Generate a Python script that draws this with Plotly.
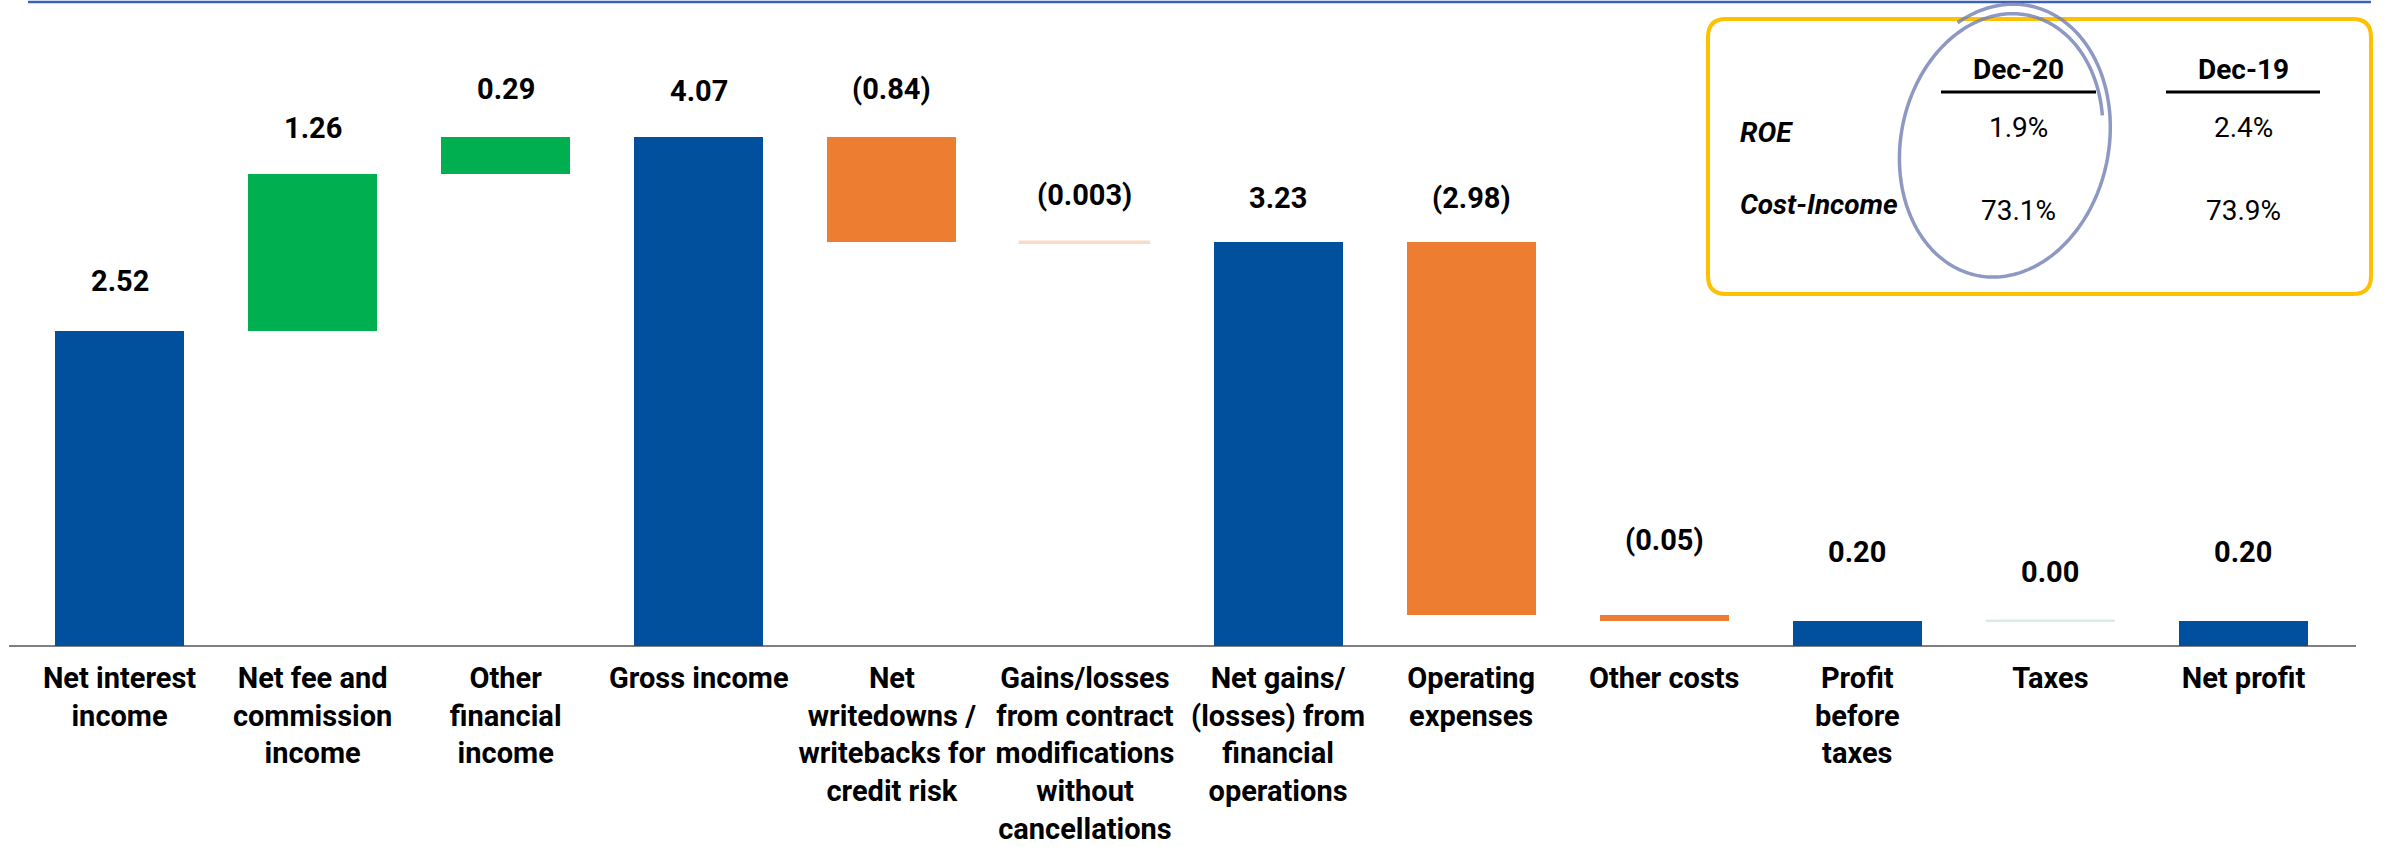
import numpy as np
import plotly.graph_objects as go

# ---------------- data ----------------
categories = [
    "Net interest<br>income",
    "Net fee and<br>commission<br>income",
    "Other<br>financial<br>income",
    "Gross income",
    "Net<br>writedowns /<br>writebacks for<br>credit risk",
    "Gains/losses<br>from contract<br>modifications<br>without<br>cancellations",
    "Net gains/<br>(losses) from<br>financial<br>operations",
    "Operating<br>expenses",
    "Other costs",
    "Profit<br>before<br>taxes",
    "Taxes",
    "Net profit",
]
values = [2.52, 1.26, 0.29, 4.07, -0.84, -0.003, 3.23, -2.98, -0.05, 0.20, 0.00, 0.20]
measures = ["relative", "relative", "relative", "total", "relative", "relative",
            "total", "relative", "relative", "total", "relative", "total"]

table_columns = ["Dec-20", "Dec-19"]
table_rows = ["ROE", "Cost-Income"]
table_values = [["1.9%", "2.4%"], ["73.1%", "73.9%"]]

# ---------------- style ----------------
BLUE = "#00509E"
GREEN = "#00B050"
ORANGE = "#ED7D31"
bar_colors = [BLUE, GREEN, GREEN, BLUE, ORANGE, "#FADBC8", BLUE, ORANGE, ORANGE, BLUE, "#D6EEDF", BLUE]
label_gap_px = [50, 46, 48, 46, 48, 47, 44, 44, 75, 69, 49, 69]
FONT = "Roboto, Liberation Sans, Arial, sans-serif"
FS = 29
FS_TAB = 28

W, H = 2384, 847
ML, MR, MT, MB = 23, 44, 2, 201
PX_PER_UNIT = 125.0
plot_w = W - ML - MR
plot_h = H - MT - MB
y_max = plot_h / PX_PER_UNIT


def px_x(p):
    return (p - ML) / plot_w


def px_y(p):
    return (H - MB - p) / plot_h


# ---------------- waterfall geometry from data ----------------
bases, heights = [], []
level = 0.0
for v, m in zip(values, measures):
    if m == "total":
        bases.append(0.0)
        heights.append(v)
        level = v
    else:
        if v >= 0:
            bases.append(level)
            heights.append(v)
        else:
            bases.append(level + v)
            heights.append(-v)
        level += v


def fmt(v):
    if v < 0:
        s = f"{abs(v):.3f}" if abs(v) < 0.01 else f"{abs(v):.2f}"
        return f"({s})"
    return f"{v:.2f}"


xs = list(range(len(categories)))
line_colors = [c if h < 0.01 else "rgba(0,0,0,0)" for c, h in zip(bar_colors, heights)]
line_widths = [2.5 if h < 0.01 else 0 for h in heights]

fig = go.Figure()
fig.add_trace(go.Bar(
    x=xs, y=heights, base=bases, width=0.668,
    marker=dict(color=bar_colors, line=dict(color=line_colors, width=line_widths)),
    hoverinfo="skip", showlegend=False,
))

annotations = []
for i, (b, h, v) in enumerate(zip(bases, heights, values)):
    annotations.append(dict(
        x=i, y=b + h, xref="x", yref="y", text=fmt(v), showarrow=False,
        yshift=label_gap_px[i], yanchor="middle", xanchor="center",
        font=dict(family=FONT, size=FS, color="black", weight="bold"),
    ))

# ---------------- inset table ----------------
col_cx = [2018, 2243]
col_ul = [(1941, 2096), (2166, 2320)]
header_y = 70
row_label_y = [133, 204]
row_value_y = [128, 210]
row_label_x = 1738

for j, col in enumerate(table_columns):
    annotations.append(dict(
        x=px_x(col_cx[j]), y=px_y(header_y), xref="paper", yref="paper",
        text=col, showarrow=False, xanchor="center", yanchor="middle",
        font=dict(family=FONT, size=FS_TAB, color="black", weight="bold"),
    ))
for r, row in enumerate(table_rows):
    annotations.append(dict(
        x=px_x(row_label_x), y=px_y(row_label_y[r]), xref="paper", yref="paper",
        text=f"<i>{row}</i>", showarrow=False, xanchor="left", yanchor="middle",
        font=dict(family=FONT, size=FS_TAB, color="black", weight="bold"),
    ))
    for j, val in enumerate(table_values[r]):
        annotations.append(dict(
            x=px_x(col_cx[j]), y=px_y(row_value_y[r]), xref="paper", yref="paper",
            text=val, showarrow=False, xanchor="center", yanchor="middle",
            font=dict(family=FONT, size=FS_TAB, color="black"),
        ))

shapes = []
# top blue rule
shapes.append(dict(type="line", xref="paper", yref="paper",
                   x0=px_x(28), x1=px_x(2371), y0=px_y(2), y1=px_y(2),
                   line=dict(color="#3A62B8", width=2.5)))
# baseline
shapes.append(dict(type="line", xref="paper", yref="paper",
                   x0=px_x(9), x1=px_x(2356), y0=px_y(646), y1=px_y(646),
                   line=dict(color="#808080", width=2), layer="below"))
# header underlines
for (a, b) in col_ul:
    shapes.append(dict(type="line", xref="paper", yref="paper",
                       x0=px_x(a), x1=px_x(b), y0=px_y(92), y1=px_y(92),
                       line=dict(color="black", width=3)))

# rounded box
bx0, bx1, by0, by1, rad = 1708, 2371, 19, 294, 18
pts = [
    f"M {px_x(bx0 + rad)},{px_y(by0)}",
    f"L {px_x(bx1 - rad)},{px_y(by0)}",
    f"Q {px_x(bx1)},{px_y(by0)} {px_x(bx1)},{px_y(by0 + rad)}",
    f"L {px_x(bx1)},{px_y(by1 - rad)}",
    f"Q {px_x(bx1)},{px_y(by1)} {px_x(bx1 - rad)},{px_y(by1)}",
    f"L {px_x(bx0 + rad)},{px_y(by1)}",
    f"Q {px_x(bx0)},{px_y(by1)} {px_x(bx0)},{px_y(by1 - rad)}",
    f"L {px_x(bx0)},{px_y(by0 + rad)}",
    f"Q {px_x(bx0)},{px_y(by0)} {px_x(bx0 + rad)},{px_y(by0)}",
    "Z",
]
shapes.append(dict(type="path", xref="paper", yref="paper", path=" ".join(pts),
                   line=dict(color="#FFC000", width=4)))

# hand-drawn ellipse around Dec-20: pen starts inside at upper right, loops ~1.3 times
cx, cy, a, bb, th = 2003, 143, 138, 106, np.deg2rad(11.7)
t = np.linspace(np.pi * 0.12, np.pi * 0.12 + 2 * np.pi * 1.3, 360)
drift = 0.93 + 0.09 * (t - t[0]) / (2 * np.pi * 1.3)
px = cx + bb * drift * np.cos(t) * np.cos(th) + a * drift * np.sin(t) * np.sin(th)
py = cy + bb * drift * np.cos(t) * np.sin(th) - a * drift * np.sin(t) * np.cos(th)
path = "M " + " L ".join(f"{px_x(u):.5f},{px_y(w):.5f}" for u, w in zip(px, py))
shapes.append(dict(type="path", xref="paper", yref="paper", path=path,
                   line=dict(color="rgba(112,126,180,0.8)", width=3.5)))

fig.update_layout(
    width=W, height=H,
    margin=dict(l=ML, r=MR, t=MT, b=MB, autoexpand=False),
    paper_bgcolor="white", plot_bgcolor="white",
    xaxis=dict(range=[-0.5, len(categories) - 0.5], tickvals=xs, ticktext=categories,
               showgrid=False, zeroline=False, showline=False, ticks="",
               automargin=False,
               tickfont=dict(family=FONT, size=FS, color="black", weight="bold"),
               tickangle=0, ticklabelstandoff=12),
    yaxis=dict(range=[0, y_max], visible=False, showgrid=False, zeroline=False,
               automargin=False),
    annotations=annotations,
    shapes=shapes,
    bargap=0,
)

fig.write_html("out.html")
